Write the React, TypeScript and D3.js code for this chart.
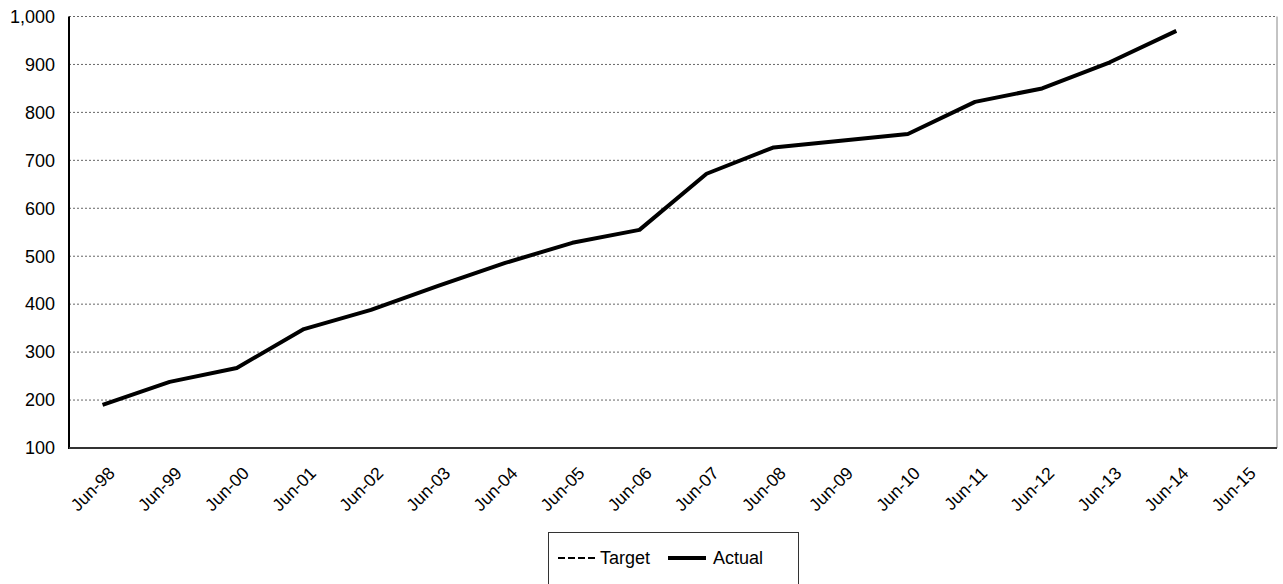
import React from "react";
import * as d3 from "d3";

const categories = ["Jun-98","Jun-99","Jun-00","Jun-01","Jun-02","Jun-03","Jun-04","Jun-05","Jun-06","Jun-07","Jun-08","Jun-09","Jun-10","Jun-11","Jun-12","Jun-13","Jun-14","Jun-15"];
const actual = [190,238,267,348,388,438,486,528,555,672,727,741,755,822,850,904,970];
const target: number[] = [];
const yTicks = [100,200,300,400,500,600,700,800,900,1000];

export default function App() {
  const W = 1283, H = 584;
  const left = 69, right = 1277, top = 16.5, bottom = 448;
  const x = d3.scaleBand().domain(categories).range([left, right]);
  const y = d3.scaleLinear().domain([100, 1000]).range([bottom, top]);
  const cx = (c: string) => (x(c) as number) + x.bandwidth() / 2;
  const line = d3.line<number>().x((_, i) => cx(categories[i])).y(d => y(d));
  const fmt = d3.format(",");
  const font = "Arial, 'Liberation Sans', sans-serif";
  return (
    <svg width={W} height={H} style={{ position: "absolute", left: 0, top: 0 }} fontFamily={font}>
      {yTicks.filter(t => t > 100).map(t => (
        <line key={t} x1={left} x2={right} y1={y(t)} y2={y(t)} stroke="#666" strokeWidth={1} strokeDasharray="2,2" />
      ))}
      <line x1={right} x2={right} y1={top} y2={bottom} stroke="#888" strokeWidth={1} />
      <line x1={left} x2={left} y1={top} y2={bottom + 1} stroke="#000" strokeWidth={2} />
      <line x1={left} x2={right} y1={bottom} y2={bottom} stroke="#333" strokeWidth={2} />
      {yTicks.map(t => (
        <text key={t} x={left - 14} y={y(t)} dy="0.35em" textAnchor="end" fontSize={18} fill="#000">{fmt(t)}</text>
      ))}
      {categories.map(c => (
        <text key={c} transform={`translate(${cx(c) + 9},${bottom + 22}) rotate(-45)`} textAnchor="end" dy="0.35em" fontSize={17.5} fill="#000">{c}</text>
      ))}
      {target.length > 0 && <path d={line(target) || ""} fill="none" stroke="#000" strokeWidth={1.5} strokeDasharray="7,3" />}
      <path d={line(actual) || ""} fill="none" stroke="#000" strokeWidth={4} strokeLinejoin="round" />
      <g>
        <rect x={548.5} y={532.5} width={250} height={60} fill="#fff" stroke="#333" strokeWidth={1} />
        <line x1={558} x2={598} y1={558} y2={558} stroke="#000" strokeWidth={2} strokeDasharray="7,3" />
        <text x={600} y={558} dy="0.35em" fontSize={18}>Target</text>
        <line x1={668} x2={706} y1={558} y2={558} stroke="#000" strokeWidth={4} />
        <text x={713} y={558} dy="0.35em" fontSize={18}>Actual</text>
      </g>
    </svg>
  );
}
